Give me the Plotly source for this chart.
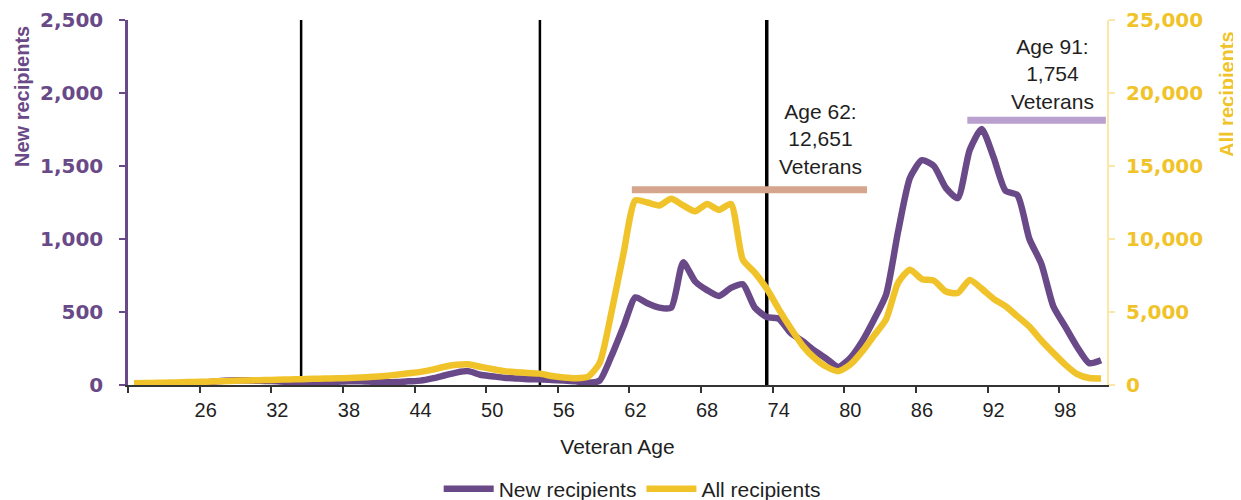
import plotly.graph_objects as go

# ---------------- data ----------------
ages = list(range(20, 102))

new_recipients = [
    5, 5, 8, 10, 12, 15, 18, 25, 30, 32,          # 20-29
    30, 28, 25, 22, 22, 20, 20, 22, 25, 25,       # 30-39
    22, 20, 20, 25, 30, 45, 65, 85, 95, 70,       # 40-49
    60, 50, 45, 40, 40, 35, 30, 25, 15, 30,       # 50-59
    200, 400, 600, 560, 530, 530, 840, 710, 650, 610,   # 60-69
    665, 690, 530, 466, 455, 357, 300, 235, 180, 123,   # 70-79
    185, 300, 450, 620, 1050, 1420, 1540, 1500, 1350, 1280,  # 80-89
    1610, 1754, 1560, 1330, 1300, 1000, 830, 540, 400, 260,  # 90-99
    150, 170,                                      # 100-101
]

all_recipients = [
    120, 130, 150, 170, 190, 210, 230, 250, 280, 300,          # 20-29
    320, 340, 360, 380, 400, 420, 440, 460, 480, 510,          # 30-39
    560, 620, 700, 800, 900, 1050, 1250, 1380, 1420, 1250,     # 40-49
    1100, 950, 880, 820, 780, 620, 520, 470, 550, 1500,        # 50-59
    5000, 9000, 12651, 12500, 12300, 12750, 12300, 11900, 12400, 12000,  # 60-69
    12400, 8573, 7700, 6600, 5200, 3900, 2700, 1850, 1250, 950,         # 70-79
    1400, 2300, 3400, 4500, 7000, 7900, 7250, 7150, 6400, 6300,         # 80-89
    7200, 6600, 5900, 5400, 4700, 4000, 3050, 2200, 1400, 750,          # 90-99
    480, 450,                                                            # 100-101
]

tick_labels = ["", "26", "32", "38", "44", "50", "56", "62", "68", "74", "80", "86", "92", "98"]
tick_bounds = [19.5 + 6 * i for i in range(len(tick_labels))]

ref_lines = [34, 54, 73]
ref_widths = [2.5, 2.5, 3.5]

hl62_x = [61.7, 81.4]
hl62_y = [13370, 13370]
hl91_x = [89.8, 101.4]
hl91_y = [1813, 1813]

PURPLE = "#694987"
YELLOW = "#F1C32B"
TAN = "#D5A68D"
LAVENDER = "#B9A0CF"
PALE_Y = "#FBE8A8"
TXT = "#1f1f1f"

# page body has an 8px margin, so the figure is sized/offset to compensate
W, H = 1233, 492
L, R, T, B = 120, 134, 12, 115
pw, ph = W - L - R, H - T - B

fig = go.Figure()

fig.add_trace(go.Scatter(
    x=ages, y=new_recipients, name="New recipients", mode="lines",
    line=dict(color=PURPLE, width=6.5, shape="spline", smoothing=0.6),
    yaxis="y",
))
fig.add_trace(go.Scatter(
    x=ages, y=all_recipients, name="All recipients", mode="lines",
    line=dict(color=YELLOW, width=6.5, shape="spline", smoothing=0.6),
    yaxis="y2",
))
fig.add_trace(go.Scatter(
    x=hl62_x, y=hl62_y, mode="lines", showlegend=False, hoverinfo="skip",
    line=dict(color=TAN, width=7), yaxis="y2",
))
fig.add_trace(go.Scatter(
    x=hl91_x, y=hl91_y, mode="lines", showlegend=False, hoverinfo="skip",
    line=dict(color=LAVENDER, width=7), yaxis="y",
))

for xv, w in zip(ref_lines, ref_widths):
    fig.add_shape(type="line", xref="x", yref="paper", x0=xv, x1=xv, y0=0, y1=1,
                  line=dict(color="black", width=w), layer="below")

fig.add_annotation(x=77.5, y=0.674, xref="x", yref="paper", xanchor="center", yanchor="middle",
                   text="Age 62:<br>12,651<br>Veterans", showarrow=False,
                   font=dict(family="Liberation Sans", size=21, color=TXT), align="center")
fig.add_annotation(x=96.9, y=0.852, xref="x", yref="paper", xanchor="center", yanchor="middle",
                   text="Age 91:<br>1,754<br>Veterans", showarrow=False,
                   font=dict(family="Liberation Sans", size=21, color=TXT), align="center")

# axis titles placed like the original (upper part of the axes); pixel -> paper
fig.add_annotation(x=(14 - L) / pw, y=(H - B - 89) / ph, xref="paper", yref="paper",
                   xanchor="center", yanchor="middle", text="<b>New recipients</b>",
                   showarrow=False, textangle=-90,
                   font=dict(family="Liberation Sans", size=20, color=PURPLE))
fig.add_annotation(x=(1219 - L) / pw, y=(H - B - 86) / ph, xref="paper", yref="paper",
                   xanchor="center", yanchor="middle", text="<b>All recipients</b>",
                   showarrow=False, textangle=-90,
                   font=dict(family="Liberation Sans", size=20, color=YELLOW))

fig.update_layout(
    width=W, height=H,
    margin=dict(l=L, r=R, t=T, b=B, autoexpand=False),
    paper_bgcolor="white", plot_bgcolor="white",
    font=dict(family="Liberation Sans", color=TXT),
    showlegend=True,
    legend=dict(orientation="h", x=0.515, xanchor="center", y=-0.285, yanchor="middle",
                font=dict(family="Liberation Sans", size=21, color=TXT),
                itemwidth=50, bgcolor="rgba(0,0,0,0)"),
    xaxis=dict(
        range=[19.5, 101.5], tickmode="array", tickvals=tick_bounds, ticktext=tick_labels,
        ticks="outside", ticklen=6, tickcolor="#333333", tickwidth=1.5,
        ticklabelshift=6, showgrid=False, zeroline=False,
        showline=True, linecolor="#333333", linewidth=1.5,
        tickfont=dict(family="Liberation Sans", size=20, color=TXT),
        title=dict(text="Veteran Age", font=dict(family="Liberation Sans", size=21, color=TXT),
                   standoff=20),
    ),
    yaxis=dict(
        range=[0, 2500], dtick=500, tickformat=",", showgrid=False, zeroline=False,
        showline=True, linecolor=PURPLE, linewidth=2.5,
        ticks="outside", ticklen=6, tickcolor=PURPLE, tickwidth=2,
        tickfont=dict(family="DejaVu Sans", size=20, color=PURPLE, weight="bold"),
        ticklabelstandoff=12,
    ),
    yaxis2=dict(
        range=[0, 25000], dtick=5000, tickformat=",", overlaying="y", side="right",
        showgrid=False, zeroline=False,
        showline=True, linecolor=PALE_Y, linewidth=2,
        ticks="outside", ticklen=6, tickcolor=PALE_Y, tickwidth=2,
        tickfont=dict(family="DejaVu Sans", size=20, color=YELLOW, weight="bold"),
        ticklabelstandoff=7,
    ),
)

fig.write_html("out.html")
